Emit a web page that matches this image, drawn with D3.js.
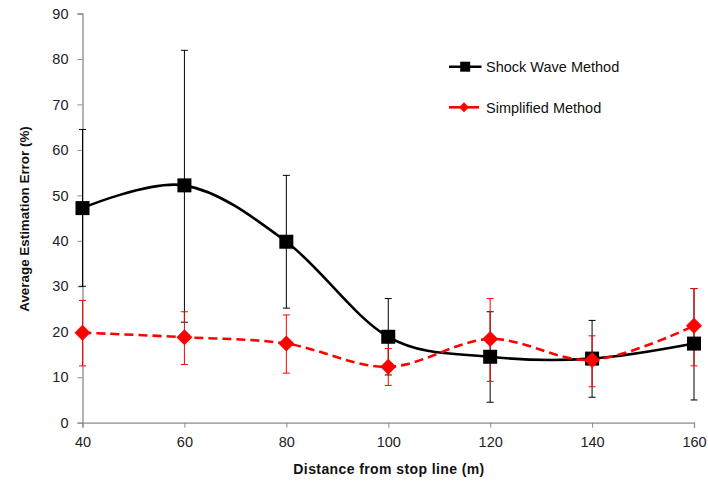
<!DOCTYPE html>
<html>
<head>
<meta charset="utf-8">
<script src="https://cdn.jsdelivr.net/npm/d3@7"></script>
<style>
  html, body { margin: 0; padding: 0; background: #fff; }
  svg { display: block; font-family: "Liberation Sans", Arial, sans-serif; }
</style>
</head>
<body>
<svg id="chart" width="708" height="482"></svg>
<script>
const distances = [40, 60, 80, 100, 120, 140, 160];
const shockValues = [47.2, 52.2, 39.8, 18.9, 14.5, 14.1, 17.4];
const shockUpper  = [64.5, 81.9, 54.4, 27.3, 24.4, 22.5, 29.5];
const shockLower  = [30.0, 22.1, 25.2, 10.5, 4.5, 5.6, 5.0];
const simpValues  = [19.8, 18.8, 17.4, 12.3, 18.4, 13.8, 21.3];
const simpUpper   = [26.9, 24.4, 23.7, 16.3, 27.3, 19.1, 29.5];
const simpLower   = [12.5, 12.8, 10.9, 8.2, 9.1, 7.9, 12.5];
const yTicks = [0, 10, 20, 30, 40, 50, 60, 70, 80, 90];
const xTicks = [40, 60, 80, 100, 120, 140, 160];
const seriesNames = ["Shock Wave Method", "Simplified Method"];

const svg = d3.select("#chart");
const x = d3.scaleLinear().domain([40, 160]).range([82.5, 694]);
const y = d3.scaleLinear().domain([0, 90]).range([422.7, 13.5]);

const axisColor = "#8c8c8c";

// Axes
const yAxis = svg.append("g").attr("transform", `translate(${x(40)},0)`)
  .call(d3.axisLeft(y).tickValues(yTicks).tickSize(5).tickPadding(9).tickFormat(d3.format("d")));
const xAxis = svg.append("g").attr("transform", `translate(0,${y(0)})`)
  .call(d3.axisBottom(x).tickValues(xTicks).tickSize(5).tickPadding(9).tickFormat(d3.format("d")));
[yAxis, xAxis].forEach(g => {
  g.selectAll("path.domain").attr("stroke", axisColor).attr("stroke-width", 1.3);
  g.selectAll(".tick line").attr("stroke", axisColor).attr("stroke-width", 1);
  g.selectAll(".tick text").attr("fill", "#222").attr("font-size", "14.5px")
    .attr("font-family", "Liberation Sans, Arial, sans-serif");
});

// Axis titles
svg.append("text")
  .attr("x", 389).attr("y", 474)
  .attr("text-anchor", "middle").attr("font-weight", "bold").attr("font-size", "14px")
  .attr("letter-spacing", "0.4px")
  .attr("fill", "#111")
  .text("Distance from stop line (m)");
svg.append("text")
  .attr("transform", `translate(28.5,219) rotate(-90)`)
  .attr("text-anchor", "middle").attr("font-weight", "bold").attr("font-size", "13.4px")
  .attr("fill", "#111")
  .text("Average Estimation Error (%)");

function makeData(vals, up, lo) {
  return distances.map((d, i) => ({ d, v: vals[i], up: up[i], lo: lo[i] }));
}
const shock = makeData(shockValues, shockUpper, shockLower);
const simp = makeData(simpValues, simpUpper, simpLower);

function drawErrorBars(data, color) {
  const g = svg.append("g");
  data.forEach(p => {
    g.append("line").attr("x1", x(p.d)).attr("x2", x(p.d)).attr("y1", y(p.up)).attr("y2", y(p.lo))
      .attr("stroke", color).attr("stroke-width", 1);
    [p.up, p.lo].forEach(v => {
      g.append("line").attr("x1", x(p.d) - 3.5).attr("x2", x(p.d) + 3.5).attr("y1", y(v)).attr("y2", y(v))
        .attr("stroke", color).attr("stroke-width", 1);
    });
  });
}

drawErrorBars(shock, "#000");
drawErrorBars(simp, "#ff0000");

const line = d3.line().x(p => x(p.d)).y(p => y(p.v)).curve(d3.curveCatmullRom.alpha(0));

// Shock wave line
svg.append("path").datum(shock).attr("d", line)
  .attr("fill", "none").attr("stroke", "#000").attr("stroke-width", 2.6);
svg.append("g").selectAll("rect").data(shock).join("rect")
  .attr("x", p => x(p.d) - 7).attr("y", p => y(p.v) - 7)
  .attr("width", 14).attr("height", 14).attr("fill", "#000");

// Simplified line
svg.append("path").datum(simp).attr("d", line)
  .attr("fill", "none").attr("stroke", "#ff0000").attr("stroke-width", 2.6)
  .attr("stroke-dasharray", "9,5");
const diamond = s => `M0,${-s} L${s},0 L0,${s} L${-s},0 Z`;
svg.append("g").selectAll("path").data(simp).join("path")
  .attr("transform", p => `translate(${x(p.d)},${y(p.v)})`)
  .attr("d", diamond(8)).attr("fill", "#ff0000");

// Legend
const legend = svg.append("g");
const legY = [66.7, 107.3];
legend.append("line").attr("x1", 449).attr("x2", 481.5).attr("y1", legY[0]).attr("y2", legY[0])
  .attr("stroke", "#000").attr("stroke-width", 2.6);
legend.append("rect").attr("x", 465.2 - 5).attr("y", legY[0] - 5).attr("width", 10).attr("height", 10).attr("fill", "#000");
legend.append("line").attr("x1", 449).attr("x2", 479).attr("y1", legY[1]).attr("y2", legY[1])
  .attr("stroke", "#ff0000").attr("stroke-width", 2.6);
legend.append("path").attr("transform", `translate(464,${legY[1]})`).attr("d", diamond(5)).attr("fill", "#ff0000");
seriesNames.forEach((name, i) => {
  legend.append("text").attr("x", 486).attr("y", legY[i] + 5.3)
    .attr("font-size", "14.5px").attr("fill", "#111").text(name);
});
</script>
</body>
</html>
